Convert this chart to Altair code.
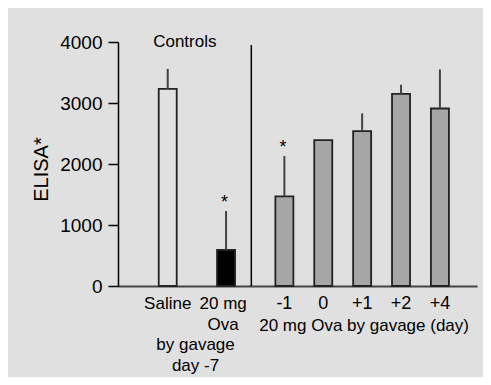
import altair as alt
import pandas as pd

# ---- data ----
groups = ["Saline", "20 mg", "-1", "0", "+1", "+2", "+4"]
means = [3230, 590, 1470, 2390, 2540, 3150, 2910]
upper = [3560, 1230, 2130, None, 2830, 3300, 3550]
significant = [False, True, True, False, False, False, False]
kinds = ["saline", "ova", "day", "day", "day", "day", "day"]
tick_labels = ["", "", "-1", "0", "+1", "+2", "+4"]

# ---- layout (slot index of each bar on the x scale) ----
slots = [0, 3, 6, 8, 10, 12, 14]
separator_slot = 4.3

FONT = "Liberation Sans"
FS = 17
BG = "#e0e0e0"

df = pd.DataFrame({
    "group": groups, "mean": means, "upper": upper, "sig": significant,
    "kind": kinds, "tick": tick_labels, "slot": slots,
})

xscale = alt.Scale(domain=[-2.3, 15.65], nice=False, zero=False)
yscale = alt.Scale(domain=[0, 4000], nice=False)

base = alt.Chart(df)

bars = base.mark_bar(size=18, stroke="#222222", strokeWidth=1.8).encode(
    x=alt.X("slot:Q", scale=xscale,
            axis=alt.Axis(title=None, labels=False, ticks=False, grid=False,
                          domainColor="#444444", domainWidth=2)),
    y=alt.Y("mean:Q", scale=yscale,
            axis=alt.Axis(title="ELISA*", values=list(range(0, 4001, 500)),
                          labelExpr="datum.value % 1000 == 0 ? datum.label : ''",
                          grid=False, domainColor="black", domainWidth=1.5,
                          tickColor="black", tickWidth=1.5, tickSize=10,
                          labelPadding=6, labelFontSize=19, labelFont=FONT,
                          labelColor="black", format="d",
                          titleFont=FONT, titleFontSize=20, titleFontWeight="normal",
                          titleColor="black", titleAngle=270,
                          titleX=-77, titleY=127, titleAlign="center",
                          titleBaseline="middle")),
    fill=alt.Fill("kind:N",
                  scale=alt.Scale(domain=["saline", "ova", "day"],
                                  range=[BG, "#000000", "#a6a6a6"]),
                  legend=None),
)

errs = base.mark_rule(color="#444444", strokeWidth=2).encode(
    x=alt.X("slot:Q", scale=xscale),
    y=alt.Y("mean:Q", scale=yscale),
    y2="upper:Q",
)

stars = base.transform_filter("datum.sig").mark_text(
    text="*", font=FONT, fontSize=18, baseline="alphabetic", dy=-3, dx=-1.5,
    color="black").encode(
    x=alt.X("slot:Q", scale=xscale),
    y=alt.Y("upper:Q", scale=yscale),
)

ticks = base.transform_filter("datum.tick != ''").mark_text(
    font=FONT, fontSize=18, baseline="middle", dy=18, color="black").encode(
    x=alt.X("slot:Q", scale=xscale),
    y=alt.datum(0),
    text="tick:N",
)

sep = alt.Chart(df).transform_filter("datum.slot == 0").mark_rule(
    color="black", strokeWidth=1.5).encode(
    x=alt.X(datum=separator_slot),
    y=alt.Y(datum=0),
    y2=alt.Y2(datum=3950),
)


def label(text, slot, value, dy, line_height=21):
    return alt.Chart(df).transform_filter("datum.slot == 0").mark_text(
        text=text, font=FONT, fontSize=FS, baseline="middle", align="center",
        dy=dy, lineBreak="\n", lineHeight=line_height, color="black").encode(
        x=alt.X(datum=slot), y=alt.Y(datum=value))


labels = [
    label("Controls", 0.88, 4000, 0),
    label("Saline", 0, 0, 18),
    label("20 mg\nOva", 2.85, 0, 18),
    label("by gavage\nday -7", 1.43, 0, 58.5),
    label("20 mg Ova by gavage (day)", 10.1, 0, 40),
]

chart = alt.layer(bars, errs, stars, ticks, sep, *labels).properties(
    width=359, height=244,
    autosize=alt.AutoSizeParams(type="none"),
    padding={"left": 110, "top": 34, "right": 6, "bottom": 91},
    background=BG,
).configure_view(stroke=None)

chart.save("out.html", embed_options={"renderer": "svg", "actions": False})
